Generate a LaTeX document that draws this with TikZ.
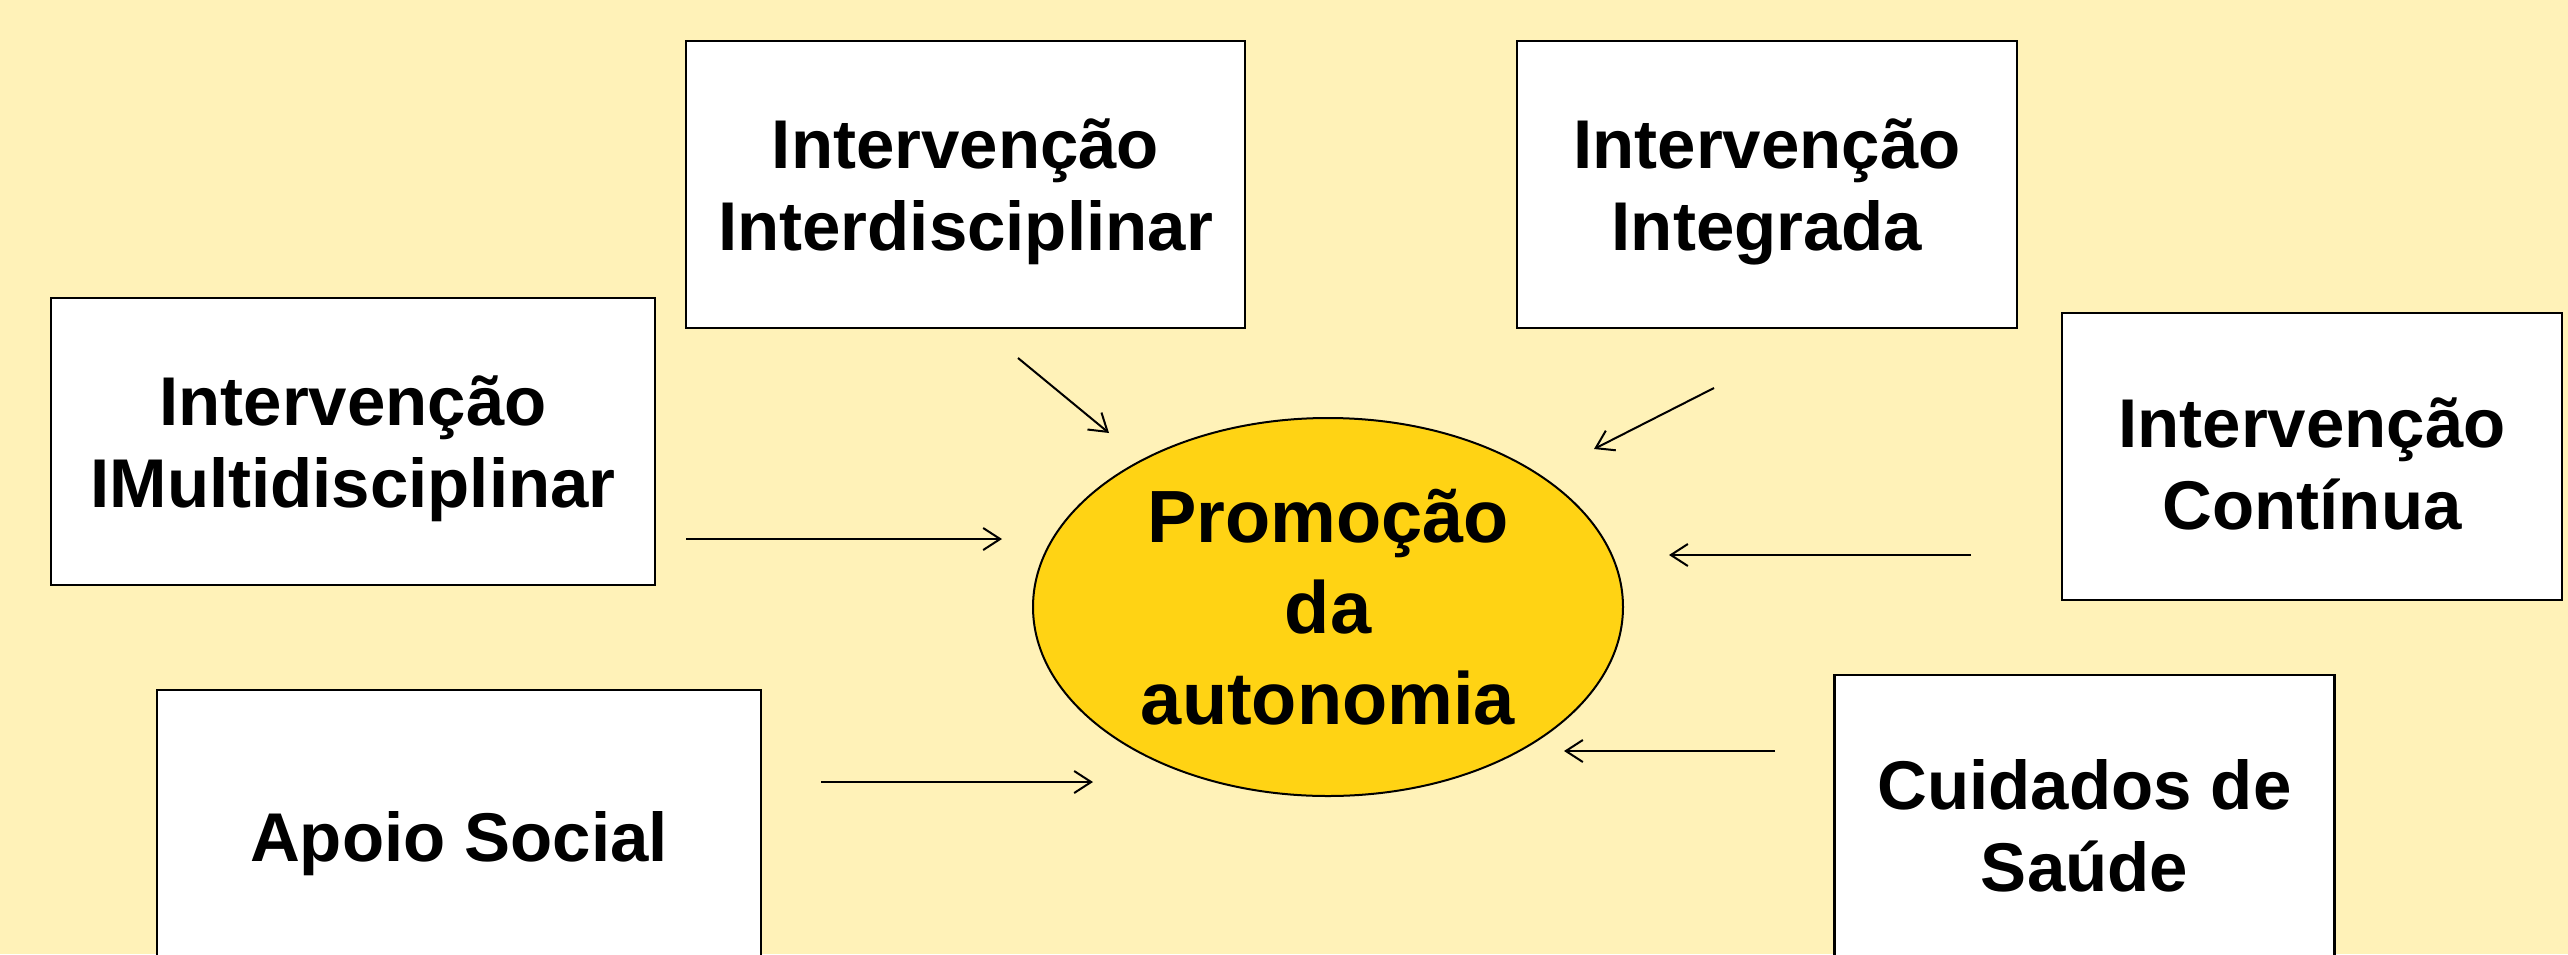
\documentclass[tikz,border=0pt]{standalone}
\usepackage{fontspec}
\setmainfont{Liberation Sans}
\usetikzlibrary{shapes.geometric,arrows.meta}
\definecolor{bg}{HTML}{FFF2B8}
\definecolor{gold}{HTML}{FFD314}
\begin{document}
\begin{tikzpicture}[x=1pt,y=-1pt,
  box/.style={draw, line width=2.2pt, fill=white, inner sep=0pt, minimum height=287pt},
  txt/.style={inner sep=0pt, align=center, font=\bfseries\fontsize{69}{82}\selectfont},
  goal/.style={ellipse, draw, line width=2pt, fill=gold, inner sep=0pt, align=center,
    minimum width=590pt, minimum height=378pt, font=\bfseries\fontsize{74}{91}\selectfont},
  arr/.style={line width=2pt, -{Straight Barb[length=17pt,width=22pt,line width=2pt]}}]
\useasboundingbox (0,0) rectangle (2568,954);
\fill[bg] (0,0) rectangle (2568,954);
\begin{scope}
\clip (0,0) rectangle (2568,954);
\node[box, minimum width=559pt] (inter) at (965.5,184.5) {};
\node[box, minimum width=500pt] (integ) at (1767,184.5) {};
\node[box, minimum width=604pt] (multi) at (353,441.5) {};
\node[box, minimum width=500pt] (cont) at (2312,456.5) {};
\node[box, minimum width=604pt] (apoio) at (459,833.5) {};
\node[box, minimum width=500pt] (cuid) at (2084.5,818.5) {};
\node[txt] (interT) at ([yshift=-7pt]inter.center) {Intervenção\\Interdisciplinar};
\node[txt] (integT) at ([yshift=-7pt]integ.center) {Intervenção\\Integrada};
\node[txt] (multiT) at ([yshift=-7pt]multi.center) {Intervenção\\IMultidisciplinar};
\node[txt] (contT) at ([yshift=-7pt]cont.center) {Intervenção\\Contínua};
\node[txt] (apoioT) at ([yshift=-10pt]apoio.center) {Apoio Social};
\node[txt] (cuidT) at ([yshift=-7pt]cuid.center) {Cuidados de\\Saúde};
\node[goal] (prom) at (1328,607) {Promoção\\da\\autonomia};
\end{scope}
\coordinate (a1s) at (1018,358); \coordinate (a1e) at (1109,433);
\coordinate (a2s) at (686,539);  \coordinate (a2e) at (1002,539);
\coordinate (a3s) at (821,782);  \coordinate (a3e) at (1093,782);
\coordinate (a4s) at (1714,388); \coordinate (a4e) at (1594,449);
\coordinate (a5s) at (1971,555); \coordinate (a5e) at (1669,555);
\coordinate (a6s) at (1775,751); \coordinate (a6e) at (1564,751);
\draw[arr] (a1s) -- (a1e);
\draw[arr] (a2s) -- (a2e);
\draw[arr] (a3s) -- (a3e);
\draw[arr] (a4s) -- (a4e);
\draw[arr] (a5s) -- (a5e);
\draw[arr] (a6s) -- (a6e);
\end{tikzpicture}
\end{document}
